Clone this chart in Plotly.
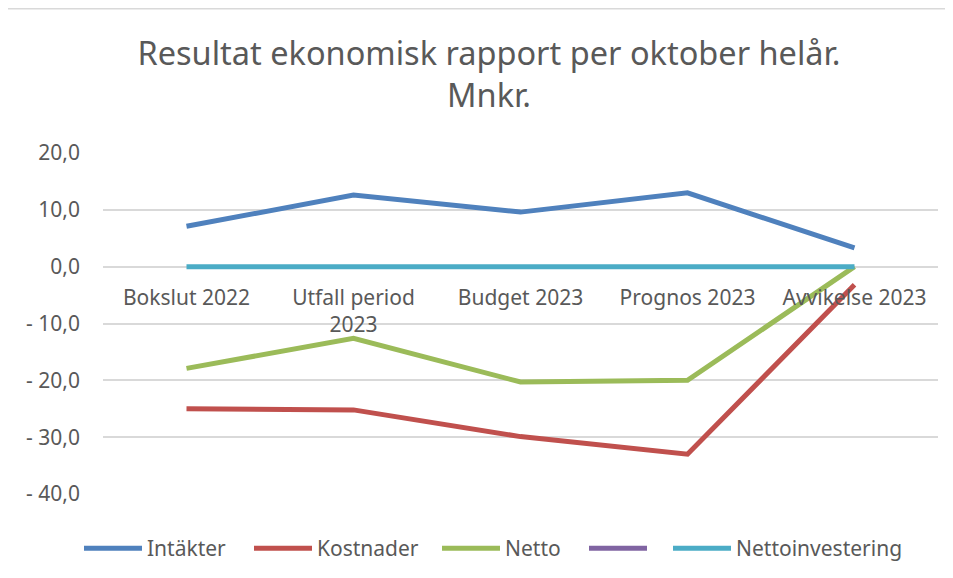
import plotly.graph_objects as go

categories = ["Bokslut 2022", "Utfall period 2023", "Budget 2023", "Prognos 2023", "Avvikelse 2023"]
category_labels = ["Bokslut 2022", "Utfall period<br>2023", "Budget 2023", "Prognos 2023", "Avvikelse 2023"]

intakter = [7.1, 12.6, 9.6, 13.0, 3.3]
kostnader = [-25.0, -25.2, -29.9, -33.0, -3.2]
netto = [-17.9, -12.6, -20.3, -20.0, 0.0]
unnamed = [None, None, None, None, None]
nettoinvestering = [0.0, 0.0, 0.0, 0.0, 0.0]

ytick_vals = [-40, -30, -20, -10, 0, 10, 20]
ytick_text = ["- 40,0", "- 30,0", "- 20,0", "- 10,0", "0,0", "10,0", "20,0"]

series_names = ["Intäkter", "Kostnader", "Netto", "", "Nettoinvestering"]
series_values = [intakter, kostnader, netto, unnamed, nettoinvestering]
series_colors = ["#4F81BD", "#C0504D", "#9BBB59", "#8064A2", "#4BACC6"]
# left edge (figure px) of each legend entry
legend_left_px = [71, 241, 429, 576, 660]

W, H = 953, 578
L, R, T, B = 95, 23, 145, 92
pw, ph = W - L - R, H - T - B


def px_x(p):
    return (p - L) / pw


def px_y(p):
    return (H - B - p) / ph


fig = go.Figure()
legend_layouts = {}
for i, (name, vals, color) in enumerate(zip(series_names, series_values, series_colors)):
    lg = "legend" if i == 0 else f"legend{i + 1}"
    fig.add_trace(go.Scatter(
        x=categories, y=vals, name=name, mode="lines",
        line=dict(color=color, width=5),
        showlegend=True, legend=lg,
    ))
    legend_layouts[lg] = dict(
        orientation="h", x=px_x(legend_left_px[i]), xanchor="left",
        y=px_y(520), yanchor="top",
        font=dict(size=21, color="#595959", family="Noto Sans, sans-serif"),
        itemwidth=58, bgcolor="rgba(0,0,0,0)", borderwidth=0,
    )

fig.update_layout(
    width=W, height=H,
    margin=dict(l=L, r=R, t=T, b=B),
    paper_bgcolor="white", plot_bgcolor="white",
    font=dict(family="Noto Sans, Open Sans, sans-serif", color="#595959", size=21),
    title=dict(
        text="Resultat ekonomisk rapport per oktober helår.<br>Mnkr.",
        x=481 / W, xanchor="center", xref="container",
        y=1 - 57 / H, yanchor="top", yref="container",
        font=dict(size=32.5, color="#595959", family="Noto Sans, sans-serif"),
    ),
    xaxis=dict(
        type="category", categoryorder="array", categoryarray=categories,
        tickvals=categories, ticktext=category_labels,
        showgrid=False, showline=False, zeroline=False, ticks="",
        anchor="free", position=40 / 60,
        range=[-0.5, len(categories) - 0.5],
        tickfont=dict(size=21, color="#595959"),
        ticklabelstandoff=16,
    ),
    yaxis=dict(
        range=[-40, 20],
        tickvals=ytick_vals, ticktext=ytick_text,
        showgrid=True, gridcolor="#D9D9D9", gridwidth=1.5,
        zeroline=False, showline=False, ticks="",
        tickfont=dict(size=21, color="#595959"),
        ticklabelstandoff=22,
    ),
    shapes=[dict(
        type="rect", xref="paper", yref="paper",
        x0=px_x(-3), x1=px_x(990), y0=px_y(640), y1=px_y(0.75),
        line=dict(color="#D9D9D9", width=1.5), fillcolor="rgba(0,0,0,0)",
        layer="below",
    )],
    **legend_layouts,
)

fig.write_html("out.html")
